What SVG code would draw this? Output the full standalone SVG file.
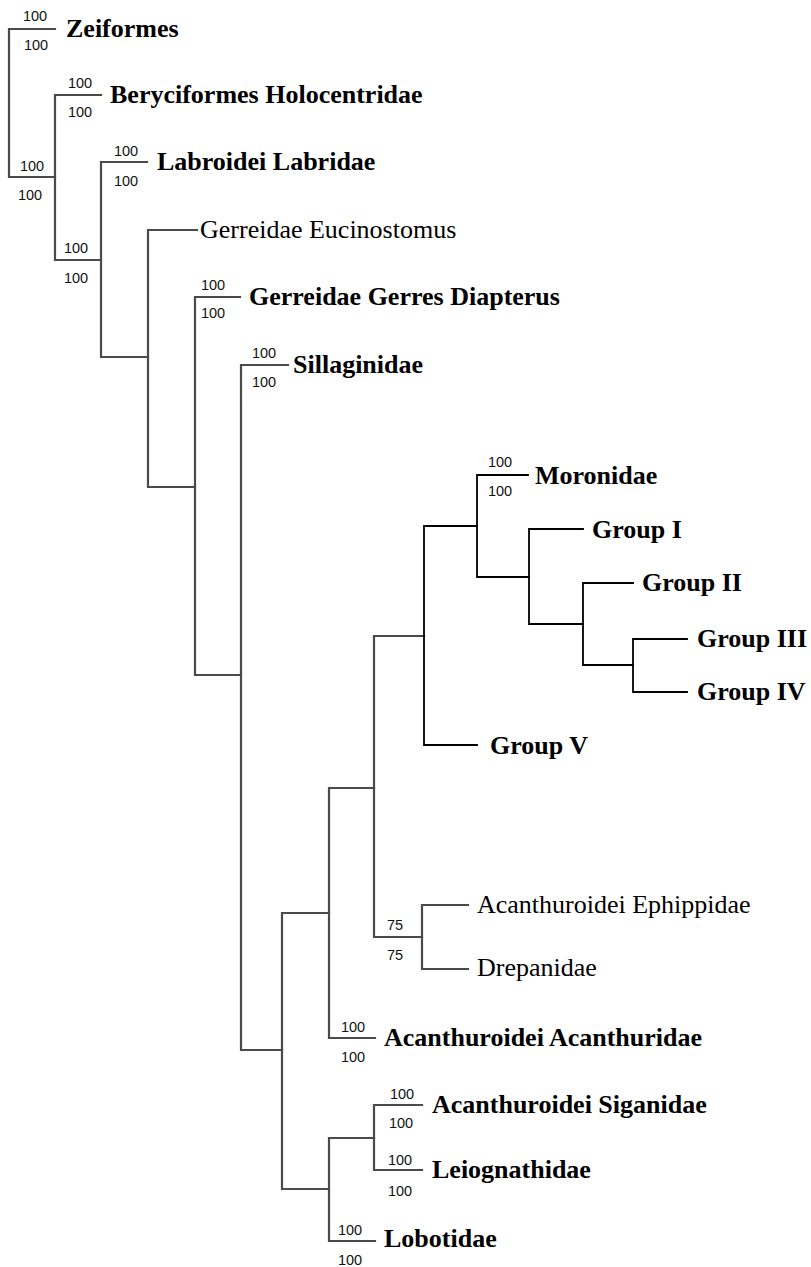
<svg xmlns="http://www.w3.org/2000/svg" width="811" height="1267" viewBox="0 0 811 1267">
<style>
.g{fill:none;stroke:#4a4a4a;stroke-width:2.2;stroke-linecap:square}
.k{fill:none;stroke:#000;stroke-width:1.8;stroke-linecap:square}
.t{font-family:"Liberation Serif","Times New Roman",serif;font-size:26px;fill:#000}
.b{font-weight:bold}
.s{font-family:"Liberation Sans",Arial,sans-serif;font-size:14.5px;fill:#111;text-anchor:middle}
</style>
<rect width="811" height="1267" fill="#fff"/>
<g id="connectors">
<path class="g" d="M55,29 H9 V177 H55"/>
<path class="g" d="M101,95 H55 V260 H101"/>
<path class="g" d="M147,162 H101 V357 H148"/>
<path class="g" d="M197,230 H148 V487 H195"/>
<path class="g" d="M240,297 H195 V675 H241"/>
<path class="g" d="M288,365 H241 V1050 H282"/>
<path class="g" d="M329,913 H282 V1189 H329"/>
<path class="g" d="M374,788 H329 V1038 H375"/>
<path class="g" d="M424,636 H374 V937 H422"/>
<path class="k" d="M477,526 H424 V745 H477"/>
<path class="k" d="M528,475 H477 V577 H529"/>
<path class="k" d="M583,529 H529 V624 H583"/>
<path class="k" d="M633,583 H583 V665 H633"/>
<path class="k" d="M687,639 H633 V692 H687"/>
<path class="g" d="M468,905 H422 V969 H468"/>
<path class="g" d="M374,1138 H329 V1241 H375"/>
<path class="g" d="M422,1105 H374 V1170 H422"/>
</g>
<g id="supports-internal">
<text class="s" x="32" y="171">100</text><text class="s" x="30" y="200">100</text>
<text class="s" x="76" y="253">100</text><text class="s" x="76" y="283">100</text>
<text class="s" x="395" y="930">75</text><text class="s" x="395" y="960">75</text>
</g>
<g id="zeiformes"><text class="s" x="35" y="21">100</text><text class="s" x="36" y="50">100</text><text class="t b" x="66" y="37">Zeiformes</text></g>
<g id="beryciformes"><text class="s" x="80" y="88">100</text><text class="s" x="80" y="117">100</text><text class="t b" x="110" y="103">Beryciformes Holocentridae</text></g>
<g id="labroidei"><text class="s" x="126" y="156">100</text><text class="s" x="126" y="186">100</text><text class="t b" x="157" y="170">Labroidei Labridae</text></g>
<g id="eucinostomus"><text class="t" x="200" y="238">Gerreidae Eucinostomus</text></g>
<g id="gerres"><text class="s" x="213" y="290">100</text><text class="s" x="213" y="318">100</text><text class="t b" x="249" y="305">Gerreidae Gerres Diapterus</text></g>
<g id="sillaginidae"><text class="s" x="264" y="358">100</text><text class="s" x="264" y="387">100</text><text class="t b" x="293" y="373">Sillaginidae</text></g>
<g id="moronidae"><text class="s" x="500" y="467">100</text><text class="s" x="500" y="496">100</text><text class="t b" x="535" y="484">Moronidae</text></g>
<g id="group1"><text class="t b" x="592" y="538">Group I</text></g>
<g id="group2"><text class="t b" x="642" y="591">Group II</text></g>
<g id="group3"><text class="t b" x="697" y="647">Group III</text></g>
<g id="group4"><text class="t b" x="697" y="700">Group IV</text></g>
<g id="group5"><text class="t b" x="490" y="754">Group V</text></g>
<g id="ephippidae"><text class="t" x="477" y="913">Acanthuroidei Ephippidae</text></g>
<g id="drepanidae"><text class="t" x="477" y="976">Drepanidae</text></g>
<g id="acanthuridae"><text class="s" x="353" y="1032">100</text><text class="s" x="353" y="1062">100</text><text class="t b" x="384" y="1046">Acanthuroidei Acanthuridae</text></g>
<g id="siganidae"><text class="s" x="402" y="1099">100</text><text class="s" x="401" y="1128">100</text><text class="t b" x="432" y="1113">Acanthuroidei Siganidae</text></g>
<g id="leiognathidae"><text class="s" x="400" y="1165">100</text><text class="s" x="400" y="1196">100</text><text class="t b" x="432" y="1178">Leiognathidae</text></g>
<g id="lobotidae"><text class="s" x="350" y="1235">100</text><text class="s" x="350" y="1265">100</text><text class="t b" x="384" y="1247">Lobotidae</text></g>
</svg>
